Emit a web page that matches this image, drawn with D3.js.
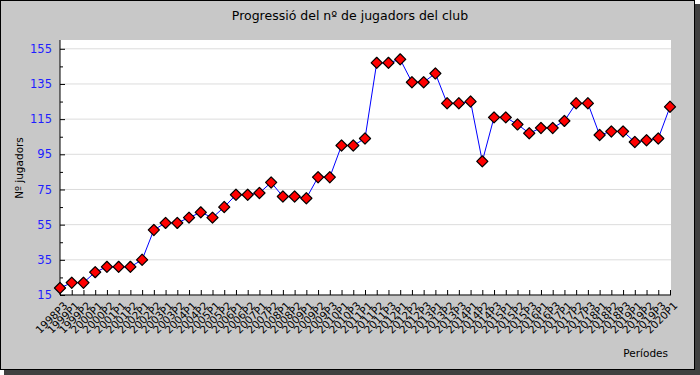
<!DOCTYPE html>
<html lang="ca">

<head>
    <meta charset="UTF-8">
    <title>Progressió del nº de jugadors del club</title>
    <script src="https://d3js.org/d3.v7.min.js"></script>
    <style>
        body { margin: 0; background: #fff; }
        text { font-family: "DejaVu Sans", sans-serif; }
    </style>
</head>

<body>
    <div id="chart"></div>
    <script>
        // Periods (x categories)
        const periods = [
            "1998P3", "1999P1", "1999P2", "2000P1", "2000P2", "2001P1", "2001P2",
            "2002P1", "2002P2", "2003P1", "2003P2", "2004P1", "2004P2", "2005P1",
            "2005P2", "2006P1", "2006P2", "2007P1", "2007P2", "2008P1", "2008P2",
            "2009P1", "2009P2", "2009P3", "2010P1", "2010P3", "2011P1", "2011P2",
            "2011P3", "2012P1", "2012P2", "2012P3", "2013P1", "2013P2", "2013P3",
            "2014P1", "2014P2", "2014P3", "2015P1", "2015P2", "2015P3", "2016P1",
            "2016P3", "2017P1", "2017P2", "2017P3", "2018P1", "2018P2", "2018P3",
            "2019P1", "2019P2", "2019P3", "2020P1"
        ];

        // Number of players per period
        const players = [
            19, 22, 22, 28, 31, 31, 31, 35, 52, 56, 56, 59, 62, 59, 65, 72, 72, 73,
            79, 71, 71, 70, 82, 82, 100, 100, 104, 147, 147, 149, 136, 136, 141,
            124, 124, 125, 91, 116, 116, 112, 107, 110, 110, 114, 124, 124, 106,
            108, 108, 102, 103, 104, 122
        ];

        const yMajor = [15, 35, 55, 75, 95, 115, 135, 155];
        const yMinor = [25, 45, 65, 85, 105, 125, 145];

        const W = 700, H = 375;
        const pLeft = 60, pRight = 671, pTop = 40, pBottom = 295;

        const svg = d3.select("#chart").append("svg")
            .attr("width", W)
            .attr("height", H);

        // outer frame with shadow
        svg.append("rect").attr("x", 4).attr("y", 4)
            .attr("width", 696).attr("height", 371).attr("fill", "#404040");
        svg.append("rect").attr("x", 0.5).attr("y", 0.5)
            .attr("width", 694).attr("height", 369)
            .attr("fill", "#c8c8c8").attr("stroke", "#000");

        // plot background
        svg.append("rect").attr("x", pLeft).attr("y", pTop)
            .attr("width", pRight - pLeft).attr("height", pBottom - pTop)
            .attr("fill", "#fff");

        const x = d3.scalePoint().domain(periods).range([pLeft, 670]);
        const y = d3.scaleLinear().domain([15, 160]).range([pBottom, pTop]);

        // gridlines
        svg.append("g").selectAll("line").data(yMajor).enter().append("line")
            .attr("x1", pLeft).attr("x2", pRight)
            .attr("y1", d => y(d)).attr("y2", d => y(d))
            .attr("stroke", "#dcdcdc").attr("stroke-width", 1);

        // y axis (ticks inside)
        const yAxis = svg.append("g").attr("transform", `translate(${pLeft},0)`)
            .call(d3.axisRight(y).tickValues(yMajor).tickSize(5).tickFormat(""));
        yAxis.select(".domain").remove();
        svg.append("g").attr("transform", `translate(${pLeft},0)`)
            .call(d3.axisRight(y).tickValues(yMinor).tickSize(3).tickFormat(""))
            .select(".domain").remove();

        svg.append("g").selectAll("text").data(yMajor).enter().append("text")
            .attr("x", 52).attr("y", d => y(d)).attr("dy", "0.35em")
            .attr("text-anchor", "end")
            .attr("font-size", 11.5).attr("fill", "#1e1eff")
            .text(d => d);

        // x axis (ticks inside)
        const xAxis = svg.append("g").attr("transform", `translate(0,${pBottom})`)
            .call(d3.axisTop(x).tickSize(5).tickFormat(""));
        xAxis.select(".domain").remove();

        svg.append("g").selectAll("text").data(periods).enter().append("text")
            .attr("transform", d => `translate(${x(d) + 3},${pBottom + 6}) rotate(-45)`)
            .attr("text-anchor", "end")
            .attr("dy", "0.7em")
            .attr("font-size", 10.5).attr("fill", "#000")
            .text(d => d);

        // axis lines
        svg.append("line").attr("x1", pLeft).attr("x2", pLeft)
            .attr("y1", pTop).attr("y2", pBottom).attr("stroke", "#000");
        svg.append("line").attr("x1", pLeft).attr("x2", pRight)
            .attr("y1", pBottom).attr("y2", pBottom).attr("stroke", "#000");

        // line
        const line = d3.line()
            .x((d, i) => x(periods[i]))
            .y(d => y(d));
        svg.append("path").datum(players)
            .attr("d", line)
            .attr("fill", "none")
            .attr("stroke", "#0000ff")
            .attr("stroke-width", 1);

        // diamond markers
        const marker = d3.symbol().type(d3.symbolSquare).size(62);
        svg.append("g").selectAll("path").data(players).enter().append("path")
            .attr("d", marker)
            .attr("transform", (d, i) => `translate(${x(periods[i])},${y(d)}) rotate(45)`)
            .attr("fill", "#ff0000")
            .attr("stroke", "#000")
            .attr("stroke-width", 1.2)
            .attr("stroke-linejoin", "round");

        // titles
        svg.append("text").attr("x", 350).attr("y", 20)
            .attr("text-anchor", "middle").attr("font-size", 12.5)
            .text("Progressió del nº de jugadors del club");

        svg.append("text")
            .attr("transform", "translate(23,168) rotate(-90)")
            .attr("text-anchor", "middle").attr("font-size", 10.5)
            .text("Nº jugadors");

        svg.append("text").attr("x", 668).attr("y", 357)
            .attr("text-anchor", "end").attr("font-size", 10.5)
            .text("Períodes");
    </script>
</body>

</html>
